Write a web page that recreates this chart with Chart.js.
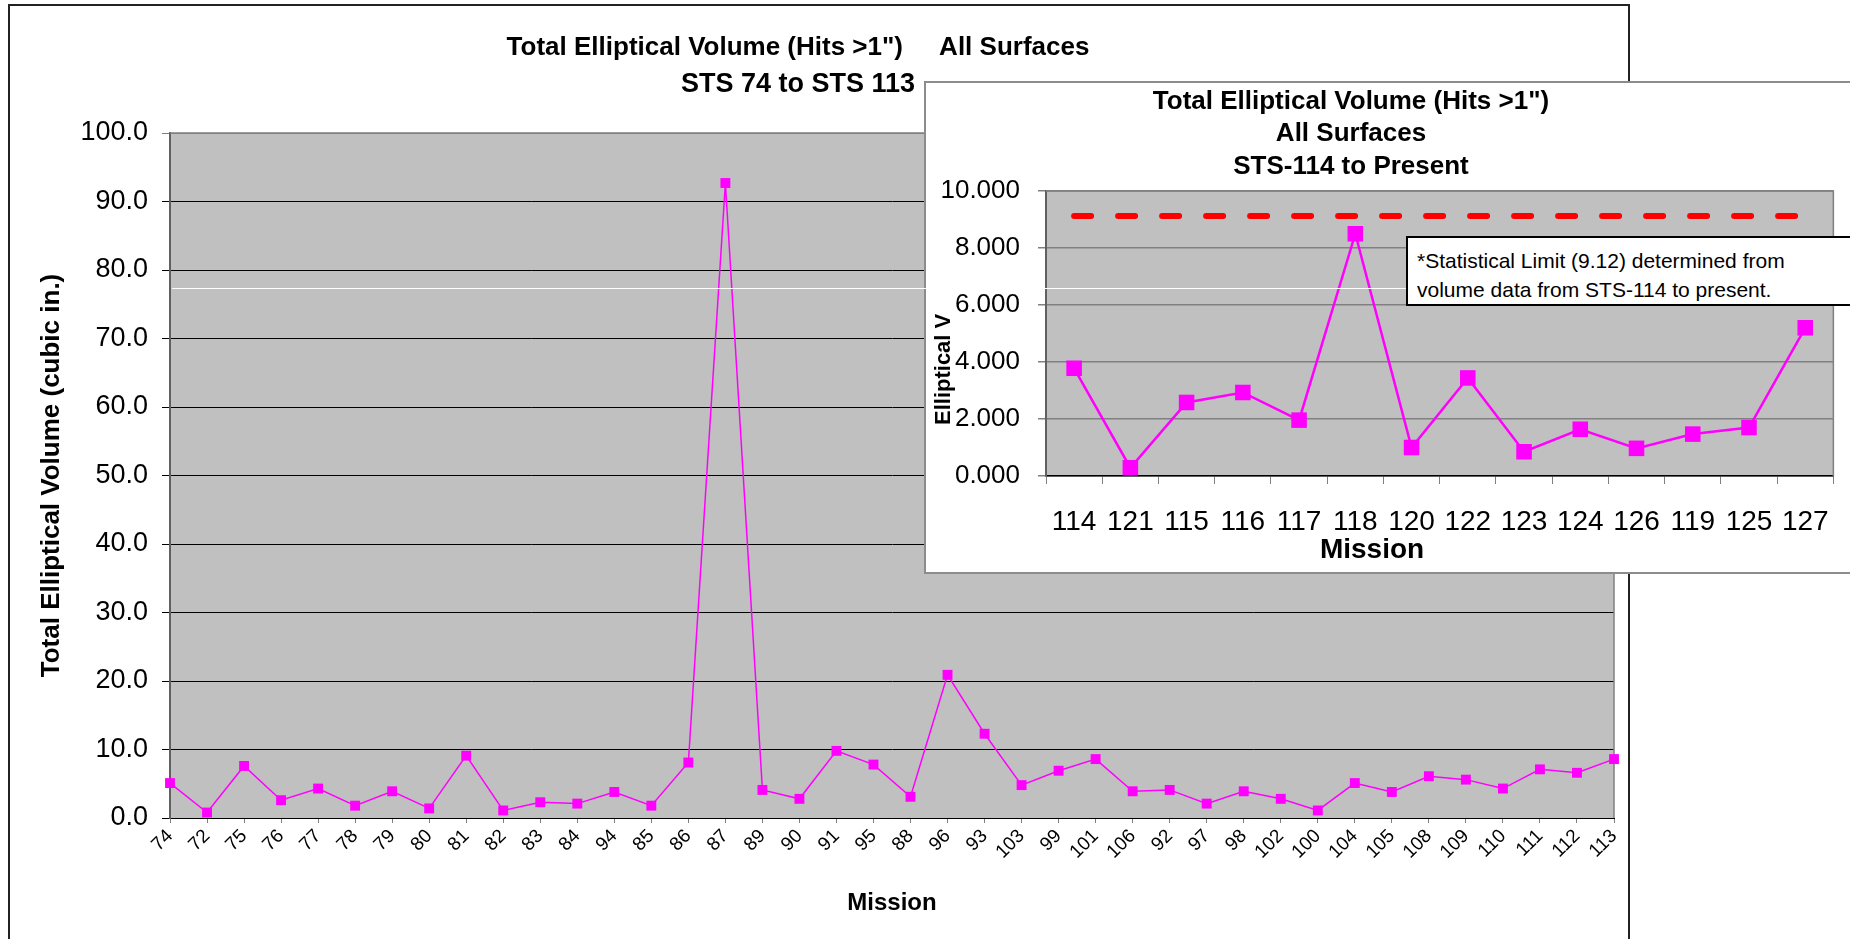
<!DOCTYPE html>
<html lang="en">
<head>
<meta charset="utf-8">
<title>Total Elliptical Volume (Hits >1")</title>
<style>
  body { margin: 0; width: 1850px; height: 939px; background: #fff; position: relative; overflow: hidden;
         font-family: "Liberation Sans", Arial, sans-serif; }
  #mainFrame { position: absolute; left: 8px; top: 4px; width: 1618px; height: 940px;
               border: 2px solid #222; border-bottom: none; }
  #mainChart { position: absolute; left: 10px; top: 6px; }
  #insetFrame { position: absolute; left: 924px; top: 81px; width: 940px; height: 489px;
                border: 2px solid #8c8c8c; background: #fff; }
  #insetChart { position: absolute; left: 926px; top: 83px; }
  #streak { position: absolute; left: 172px; top: 288px; width: 1234px; height: 1px; background: #fff; }
  #note { position: absolute; left: 1406px; top: 236px; width: 460px; height: 70px;
          border: 2px solid #000; background: #fff; font-size: 21px; line-height: 29px;
          padding: 8px 0 0 9px; box-sizing: border-box; color: #000; }
</style>
</head>
<body>
  <div id="mainFrame"></div>
  <canvas id="mainChart" width="1618" height="933"></canvas>
  <div id="insetFrame"></div>
  <canvas id="insetChart" width="924" height="489"></canvas>
  <div id="streak"></div>
  <div id="note">*Statistical Limit (9.12) determined from<br>volume data from STS-114 to present.</div>

  <script src="https://cdn.jsdelivr.net/npm/chart.js@4.4.1/dist/chart.umd.min.js"></script>
  <script>
    // ---- data ----
    const mainMissions = ['74','72','75','76','77','78','79','80','81','82',
                          '83','84','94','85','86','87','89','90','91','95',
                          '88','96','93','103','99','101','106','92','97','98',
                          '102','100','104','105','108','109','110','111','112','113'];
    const mainVolume = [5.1, 0.8, 7.6, 2.6, 4.3, 1.8, 3.9, 1.4, 9.1, 1.1,
                        2.3, 2.1, 3.8, 1.8, 8.1, 92.7, 4.1, 2.8, 9.8, 7.8,
                        3.1, 20.9, 12.3, 4.8, 6.9, 8.6, 3.9, 4.1, 2.1, 3.9,
                        2.8, 1.1, 5.1, 3.8, 6.1, 5.6, 4.3, 7.1, 6.6, 8.6];

    const insetMissions = ['114','121','115','116','117','118','120','122','123','124','126','119','125','127'];
    const insetVolume = [3.78, 0.29, 2.58, 2.93, 1.96, 8.50, 1.00, 3.44, 0.85, 1.64, 0.97, 1.47, 1.70, 5.20];
    const statLimit = 9.12;

    const mainTitle = ['Total Elliptical Volume (Hits >1")     All Surfaces', 'STS 74 to STS 113'];
    const insetTitle = ['Total Elliptical Volume (Hits >1")', 'All Surfaces', 'STS-114 to Present'];

    const MAGENTA = '#ff00ff';
    Chart.defaults.font.family = '"Liberation Sans", Arial, sans-serif';
    Chart.defaults.color = '#000';

    // gray plot area with a gray frame on top / right
    const plotBg = {
      id: 'plotBg',
      beforeDraw(chart) {
        const a = chart.chartArea, ctx = chart.ctx;
        ctx.save();
        ctx.fillStyle = '#c0c0c0';
        ctx.fillRect(a.left, a.top, a.right - a.left, a.bottom - a.top);
        ctx.restore();
      },
      beforeDatasetsDraw(chart) {
        const a = chart.chartArea, ctx = chart.ctx;
        ctx.save();
        ctx.strokeStyle = '#808080';
        ctx.lineWidth = 1.5;
        ctx.beginPath();
        ctx.moveTo(a.left, a.top);
        ctx.lineTo(a.right, a.top);
        ctx.lineTo(a.right, a.bottom);
        ctx.stroke();
        ctx.restore();
      }
    };

    // free text lines (titles placed where the original had them)
    const freeText = {
      id: 'freeText',
      afterDraw(chart, args, opts) {
        const ctx = chart.ctx;
        (opts.items || []).forEach(it => {
          ctx.save();
          ctx.font = it.font;
          ctx.fillStyle = '#000';
          ctx.textAlign = it.align || 'center';
          ctx.textBaseline = 'middle';
          ctx.translate(it.x, it.y);
          if (it.rotate) ctx.rotate(it.rotate);
          ctx.fillText(it.text, 0, 0);
          ctx.restore();
        });
      }
    };

    // x labels slanted at exactly 45 degrees, ending at their tick
    const slantLabels = {
      id: 'slantLabels',
      afterDraw(chart, args, opts) {
        if (!opts.font) return;
        const ctx = chart.ctx, sx = chart.scales.x;
        const y0 = chart.chartArea.bottom + opts.gap;
        ctx.save();
        ctx.font = opts.font;
        ctx.fillStyle = '#000';
        ctx.textAlign = 'right';
        ctx.textBaseline = 'middle';
        chart.data.labels.forEach((lab, i) => {
          ctx.save();
          ctx.translate(sx.getPixelForTick(i), y0);
          ctx.rotate(-Math.PI / 4);
          ctx.fillText(lab, 0, 0);
          ctx.restore();
        });
        ctx.restore();
      }
    };

    // ---------------- main chart ----------------
    new Chart(document.getElementById('mainChart'), {
      type: 'line',
      data: {
        labels: mainMissions,
        datasets: [{
          data: mainVolume,
          borderColor: MAGENTA,
          backgroundColor: MAGENTA,
          borderWidth: 1.5,
          pointStyle: 'rect',
          pointRadius: 7,
          pointBorderWidth: 0,
          tension: 0,
          clip: false
        }]
      },
      options: {
        responsive: false,
        animation: false,
        layout: { padding: { top: 127, right: 14, left: 0, bottom: 0 } },
        plugins: {
          legend: { display: false },
          tooltip: { enabled: false },
          freeText: {
            items: [
              { text: mainTitle[0], x: 788, y: 42, font: 'bold 26px "Liberation Sans", Arial' },
              { text: mainTitle[1], x: 788, y: 79, font: 'bold 27px "Liberation Sans", Arial' }
            ]
          },
          slantLabels: { font: '19px "Liberation Sans", Arial', gap: 15 }
        },
        scales: {
          x: {
            offset: false,
            grid: { drawOnChartArea: false, color: '#808080', tickLength: 5 },
            border: { color: '#000', width: 1 },
            ticks: { display: false, autoSkip: false },
            title: { display: true, text: 'Mission', font: { size: 24, weight: 'bold' },
                     padding: { top: 0, bottom: 21 } },
            afterFit(s) { s.height = 121; }
          },
          y: {
            min: 0, max: 100,
            ticks: { stepSize: 10, callback: v => v.toFixed(1), font: { size: 27 }, padding: 14 },
            grid: { color: c => (c.tick && c.tick.value === 100) ? '#808080' : '#000', tickLength: 8, lineWidth: 1 },
            border: { color: '#606060', width: 2 },
            title: { display: true, text: 'Total Elliptical Volume (cubic in.)',
                     font: { size: 26, weight: 'bold' }, padding: { top: 26, bottom: 0 } },
            afterFit(s) { s.width = 160; }
          }
        }
      },
      plugins: [plotBg, freeText, slantLabels]
    });

    // ---------------- inset chart ----------------
    new Chart(document.getElementById('insetChart'), {
      type: 'line',
      data: {
        labels: insetMissions,
        datasets: [{
          data: insetMissions.map(() => statLimit),
          borderColor: '#ff0000',
          borderWidth: 6,
          borderDash: [17, 27],
          borderCapStyle: 'round',
          pointRadius: 0,
          tension: 0
        }, {
          data: insetVolume,
          borderColor: MAGENTA,
          backgroundColor: MAGENTA,
          borderWidth: 2.5,
          pointStyle: 'rect',
          pointRadius: 11,
          pointBorderWidth: 0,
          tension: 0,
          clip: false
        }]
      },
      options: {
        responsive: false,
        animation: false,
        layout: { padding: { top: 108, right: 5, left: 0, bottom: 0 } },
        plugins: {
          legend: { display: false },
          tooltip: { enabled: false },
          freeText: {
            items: [
              { text: insetTitle[0], x: 425, y: 19, font: 'bold 26px "Liberation Sans", Arial' },
              { text: insetTitle[1], x: 425, y: 51, font: 'bold 26px "Liberation Sans", Arial' },
              { text: insetTitle[2], x: 425, y: 84, font: 'bold 26px "Liberation Sans", Arial' },
              { text: 'Mission', x: 446, y: 467, font: 'bold 28px "Liberation Sans", Arial' },
              { text: 'Elliptical V', x: 18, y: 342, align: 'left', rotate: -Math.PI / 2,
                font: 'bold 22px "Liberation Sans", Arial' }
            ]
          }
        },
        scales: {
          x: {
            offset: true,
            grid: { offset: true, drawOnChartArea: false, color: '#808080', tickLength: 8 },
            border: { color: '#000', width: 1.5 },
            ticks: { autoSkip: false, maxRotation: 0, font: { size: 28 }, padding: 21 },
            afterFit(s) { s.height = 96; }
          },
          y: {
            min: 0, max: 10,
            ticks: { stepSize: 2, callback: v => v.toFixed(3), font: { size: 26 }, padding: 18 },
            grid: { color: '#808080', tickLength: 8, lineWidth: 1.5 },
            border: { color: '#606060', width: 2 },
            afterFit(s) { s.width = 120; }
          }
        }
      },
      plugins: [plotBg, freeText]
    });
  </script>
</body>
</html>
